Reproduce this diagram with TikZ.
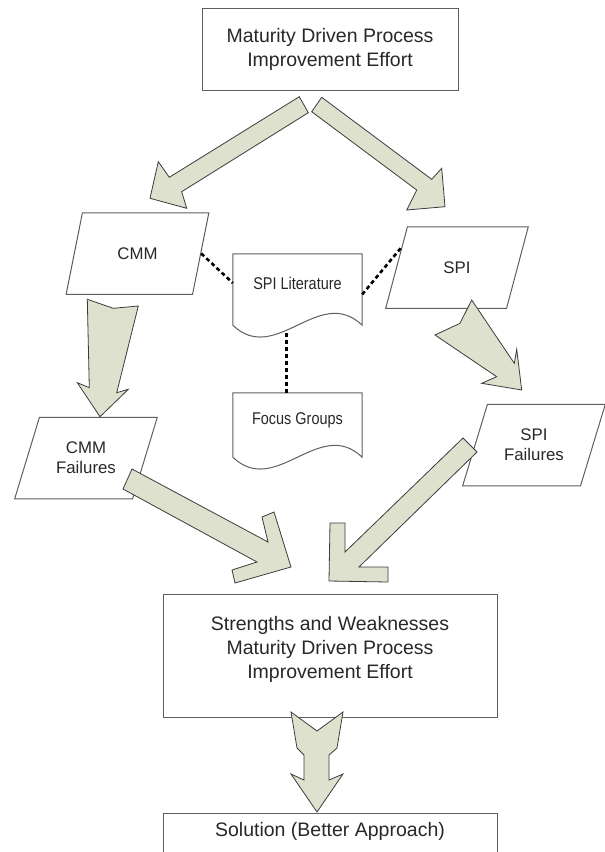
\documentclass[tikz,border=0pt]{standalone}
\usepackage{fontspec}
\setmainfont{Liberation Sans}
\newfontfamily\narrowfont[FakeStretch=0.85]{Liberation Sans}
\usetikzlibrary{shapes.geometric}
\definecolor{arrowfill}{RGB}{221,225,205}
\definecolor{arrowedge}{RGB}{60,60,60}
\definecolor{edgegray}{RGB}{95,95,95}
\definecolor{inkgray}{RGB}{40,40,40}
\newcommand\docshape[2]{\draw[docline] ([yshift=-#2]#1.south west) -- (#1.north west) -- (#1.north east) -- ([yshift=-#2]#1.south east) .. controls ([xshift=-43pt,yshift=41pt-#2]#1.south east) and ([xshift=43pt,yshift=-41pt-#2]#1.south west) .. ([yshift=-#2]#1.south west);}

\begin{document}
\begin{tikzpicture}[x=1pt,y=-1pt,
  box/.style={draw=edgegray, line width=1pt, minimum width=256pt, minimum height=82pt, align=center, text=inkgray, font=\fontsize{19.5}{24}\selectfont},
  para/.style={trapezium, trapezium left angle=63.5, trapezium right angle=116.5, trapezium stretches=true, draw=edgegray, line width=1pt, minimum width=143pt, minimum height=81.5pt, inner sep=0pt, align=center, text=inkgray, font=\fontsize{16.8}{20}\selectfont},
  doc/.style={minimum width=129pt, inner sep=0pt, text=inkgray, font=\narrowfont\fontsize{17}{20}\selectfont},
  docline/.style={draw=edgegray, line width=1pt},
  link/.style={black, line width=2.6pt, dash pattern=on 4pt off 3pt},
  blockarrow/.style={fill=arrowfill, draw=arrowedge, line width=0.8pt, line join=miter}]
\useasboundingbox[fill=white] (0,0) rectangle (605,852);
\clip (0,0) rectangle (605,852);

\node[box] (top) at (330,49) {Maturity Driven Process\\Improvement Effort};
\node[para] (cmm) at (137.5,253.5) {CMM};
\node[para] (spi) at (457,267.5) {SPI};
\node[para] (cmmf) at (86,458) {CMM\\Failures};
\node[para] (spif) at (534,445) {SPI\\Failures};
\node[doc, minimum height=58pt] (lit) at (297.5,283) {SPI Literature};
\node[doc, minimum height=54pt] (focus) at (297.5,420) {Focus Groups};
\docshape{lit}{13pt}
\docshape{focus}{10pt}
\node[box, minimum width=334pt, minimum height=123pt] (sw) at (330,655.5) {Strengths and Weaknesses\\Maturity Driven Process\\Improvement Effort\\[-7pt]\mbox{}};
\node[box, minimum width=334pt, anchor=north, inner ysep=9pt, text depth=60pt] (sol) at (330,813) {Solution (Better Approach)};

\draw[link] (cmm.east) -- (lit.west);
\draw[link] (lit.-10.5) -- (spi.160);
\draw[link] ([xshift=-11pt,yshift=-21pt]lit.south) -- ([xshift=-11pt]focus.north);

\draw[blockarrow] (299.3,96.7) -- (169.3,177.3) -- (158.3,161.7) -- (150,198.3) -- (186.7,208.3) -- (181.7,191.7) -- (308.3,112.7) -- cycle;
\draw[blockarrow] (321.7,97.3) -- (431.7,179.3) -- (441.7,168.3) -- (445,206.7) -- (406.7,210) -- (416.7,190) -- (311.7,111.7) -- cycle;
\draw[blockarrow] (87.3,299.3) -- (113.3,308.3) -- (138.3,306) -- (116.7,392.7) -- (128.3,389.3) -- (100,416.7) -- (77.3,382.7) -- (89.3,387.7) -- cycle;
\draw[blockarrow] (471.7,300) -- (514.3,363.3) -- (516.7,349.3) -- (521.7,390) -- (481.7,383.3) -- (496.7,376.7) -- (435,335) -- (460,323.3) -- cycle;
\draw[blockarrow] (132,469) -- (268,542) -- (262,517) -- (274,512) -- (291,567) -- (235,583) -- (232,570) -- (257,562) -- (123,489) -- cycle;
\draw[blockarrow] (463,438) -- (345,552) -- (345,523) -- (330,523) -- (329,581) -- (388,582) -- (388,567) -- (359,567) -- (477,452) -- cycle;
\draw[blockarrow] (291,712) -- (317,731) -- (343,712) -- (337,748) -- (329,755) -- (329,780) -- (343,774) -- (317,812) -- (291,774) -- (304,780) -- (304,755) -- (297,748) -- cycle;
\end{tikzpicture}
\end{document}
